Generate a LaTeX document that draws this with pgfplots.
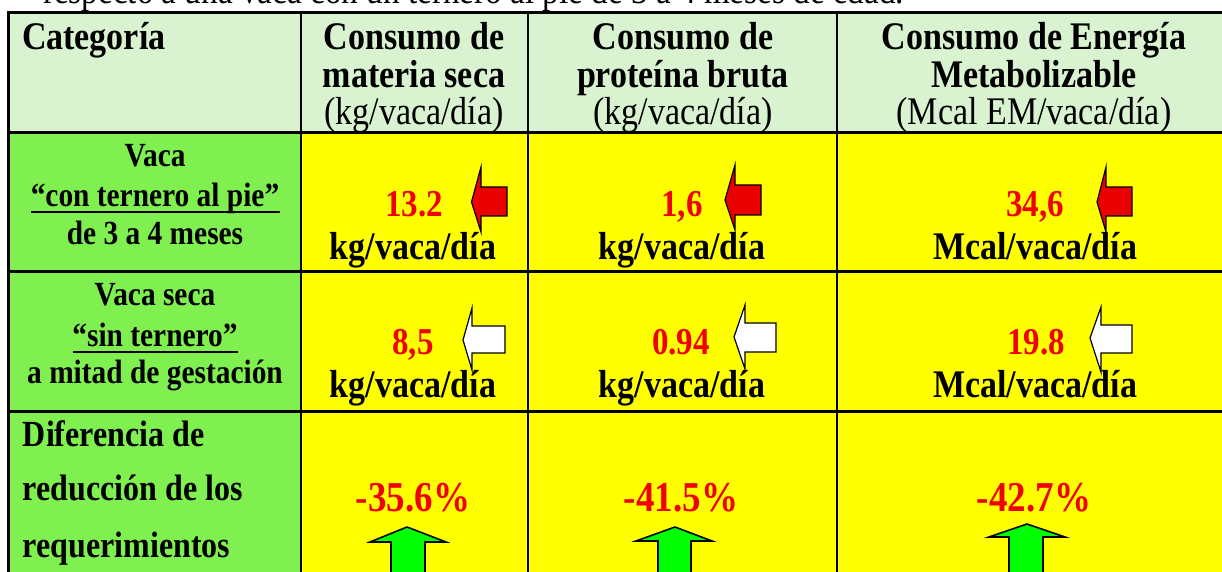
\documentclass[border=0pt]{standalone}
\usepackage{fontspec}
\setmainfont{Liberation Serif}
\usepackage{pgfplots}
\pgfplotsset{compat=1.18}
\definecolor{hdr}{RGB}{217,242,208}
\definecolor{lft}{RGB}{128,240,80}
\definecolor{yel}{RGB}{255,255,0}
\definecolor{rtx}{RGB}{240,0,0}
\definecolor{rar}{RGB}{235,0,0}
\definecolor{gar}{RGB}{0,255,0}
\newcommand\hd{\fontsize{17}{20}\selectfont\bfseries}
\newcommand\hr{\fontsize{17}{20}\selectfont}
\newcommand\lb{\fontsize{14.7}{17}\selectfont\bfseries}
\newcommand\lc{\fontsize{16}{19}\selectfont\bfseries}
\newcommand\vl{\fontsize{16.5}{19}\selectfont\bfseries\color{rtx}}
\newcommand\un{\fontsize{17}{20}\selectfont\bfseries}
\newcommand\pc{\fontsize{18.5}{22}\selectfont\bfseries\color{rtx}}
\newcommand\st[1]{\scalebox{1}[1.15]{#1}}
\tikzset{every node/.append style={inner sep=0pt, outer sep=0pt}}
\begin{document}
\begin{tikzpicture}
\useasboundingbox (0,0) rectangle (611pt,286pt);
\clip (0,0) rectangle (611pt,286pt);
\begin{axis}[at={(0,0)}, anchor=south west, width=611pt, height=286pt,
  scale only axis, xmin=0, xmax=1222, ymin=0, ymax=572, y dir=reverse,
  axis lines=none, clip=false]
% backgrounds
\addplot[draw=none, fill=hdr] coordinates {(8,12) (1240,12) (1240,133) (8,133) (8,12)};
\addplot[draw=none, fill=lft] coordinates {(8,133) (301,133) (301,590) (8,590) (8,133)};
\addplot[draw=none, fill=yel] coordinates {(301,133) (1240,133) (1240,590) (301,590) (301,133)};
% grid lines
\addplot[black, line width=1.2pt] coordinates {(7,12.7) (1240,12.7)};
\addplot[black, line width=1.5pt] coordinates {(7,133) (1240,133)};
\addplot[black, line width=1.5pt] coordinates {(7,272) (1240,272)};
\addplot[black, line width=1.5pt] coordinates {(7,412) (1240,412)};
\addplot[black, line width=1.5pt] coordinates {(8.5,12) (8.5,590)};
\addplot[black, line width=1pt] coordinates {(301,12) (301,590)};
\addplot[black, line width=1pt] coordinates {(528,12) (528,590)};
\addplot[black, line width=1pt] coordinates {(837,12) (837,590)};
% underlines
\addplot[black, line width=1pt] coordinates {(31,212) (280,212)};
\addplot[black, line width=1pt] coordinates {(73,352) (238,352)};
% red arrows (row 1)
\addplot[draw=black, line width=0.6pt, fill=rar] coordinates {(471.5,202) (481,167) (481,187) (507,187) (507,216) (481,216) (481,232) (471.5,202)};
\addplot[draw=black, line width=0.6pt, fill=rar] coordinates {(725,200) (735,165) (735,185) (761,185) (761,215) (735,215) (735,230) (725,200)};
\addplot[draw=black, line width=0.6pt, fill=rar] coordinates {(1097,202) (1106,167) (1106,187) (1132,187) (1132,216) (1106,216) (1106,232) (1097,202)};
% white arrows (row 2)
\addplot[draw=black, line width=0.6pt, fill=white] coordinates {(463,340) (472,308) (472,326) (505,326) (505,353) (472,353) (472,370) (463,340)};
\addplot[draw=black, line width=0.6pt, fill=white] coordinates {(734,337) (745,305) (745,323) (776,323) (776,352) (745,352) (745,369) (734,337)};
\addplot[draw=black, line width=0.6pt, fill=white] coordinates {(1090,338) (1101,307) (1101,325) (1132,325) (1132,353) (1101,353) (1101,372) (1090,338)};
% green arrows (row 3)
\addplot[draw=black, line width=0.8pt, fill=gar] coordinates {(407,527) (446,542) (425,542) (425,590) (391,590) (391,542) (370,542) (407,527)};
\addplot[draw=black, line width=0.8pt, fill=gar] coordinates {(675,527) (712,541) (691,541) (691,590) (658,590) (658,541) (636,541) (675,527)};
\addplot[draw=black, line width=0.8pt, fill=gar] coordinates {(1027,524) (1065,537) (1043,537) (1043,590) (1009,590) (1009,537) (989,537) (1027,524)};
% top sentence (cut off)
\node[anchor=base west, font=\fontsize{16.6}{20}\selectfont] at (axis cs:43,4) {\st{respecto a una vaca con un ternero al pie de 3 a 4 meses de edad.}};
% header
\node[anchor=base west, font=\hd] at (axis cs:22,50) {\st{Categoría}};
\node[anchor=base, font=\hd] at (axis cs:414,50) {\st{Consumo de}};
\node[anchor=base, font=\hd] at (axis cs:414,88) {\st{materia seca}};
\node[anchor=base, font=\hr] at (axis cs:414,125) {\st{(kg/vaca/día)}};
\node[anchor=base, font=\hd] at (axis cs:683,50) {\st{Consumo de}};
\node[anchor=base, font=\hd] at (axis cs:683,88) {\st{proteína bruta}};
\node[anchor=base, font=\hr] at (axis cs:683,125) {\st{(kg/vaca/día)}};
\node[anchor=base, font=\hd] at (axis cs:1034,50) {\st{Consumo de Energía}};
\node[anchor=base, font=\hd] at (axis cs:1034,88) {\st{Metabolizable}};
\node[anchor=base, font=\hr] at (axis cs:1034,125) {\st{(Mcal EM/vaca/día)}};
% left column
\node[anchor=base, font=\lb] at (axis cs:155,166.5) {\st{Vaca}};
\node[anchor=base, font=\lb] at (axis cs:155,207) {\st{“con ternero al pie”}};
\node[anchor=base, font=\lb] at (axis cs:155,244.5) {\st{de 3 a 4 meses}};
\node[anchor=base, font=\lb] at (axis cs:155,306) {\st{Vaca seca}};
\node[anchor=base, font=\lb] at (axis cs:155,347) {\st{“sin ternero”}};
\node[anchor=base, font=\lb] at (axis cs:155,383.5) {\st{a mitad de gestación}};
\node[anchor=base west, font=\lc] at (axis cs:23,446.5) {\st{Diferencia de}};
\node[anchor=base west, font=\lc] at (axis cs:23,500.5) {\st{reducción de los}};
\node[anchor=base west, font=\lc] at (axis cs:23,557) {\st{requerimientos}};
% row 1 values
\node[anchor=base, font=\vl] at (axis cs:414,217) {\st{13.2}};
\node[anchor=base, font=\un] at (axis cs:413,259.5) {\st{kg/vaca/día}};
\node[anchor=base, font=\vl] at (axis cs:682,217) {\st{1,6}};
\node[anchor=base, font=\un] at (axis cs:682,259.5) {\st{kg/vaca/día}};
\node[anchor=base, font=\vl] at (axis cs:1035,217) {\st{34,6}};
\node[anchor=base, font=\un] at (axis cs:1035,259.5) {\st{Mcal/vaca/día}};
% row 2 values
\node[anchor=base, font=\vl] at (axis cs:413,354.5) {\st{8,5}};
\node[anchor=base, font=\un] at (axis cs:413,398) {\st{kg/vaca/día}};
\node[anchor=base, font=\vl] at (axis cs:681,354.5) {\st{0.94}};
\node[anchor=base, font=\un] at (axis cs:682,398) {\st{kg/vaca/día}};
\node[anchor=base, font=\vl] at (axis cs:1036,354.5) {\st{19.8}};
\node[anchor=base, font=\un] at (axis cs:1035,398) {\st{Mcal/vaca/día}};
% row 3 values
\node[anchor=base, font=\pc] at (axis cs:413,511.5) {\st{-35.6\%}};
\node[anchor=base, font=\pc] at (axis cs:681,511.5) {\st{-41.5\%}};
\node[anchor=base, font=\pc] at (axis cs:1034,511.5) {\st{-42.7\%}};
\end{axis}
\end{tikzpicture}
\end{document}
